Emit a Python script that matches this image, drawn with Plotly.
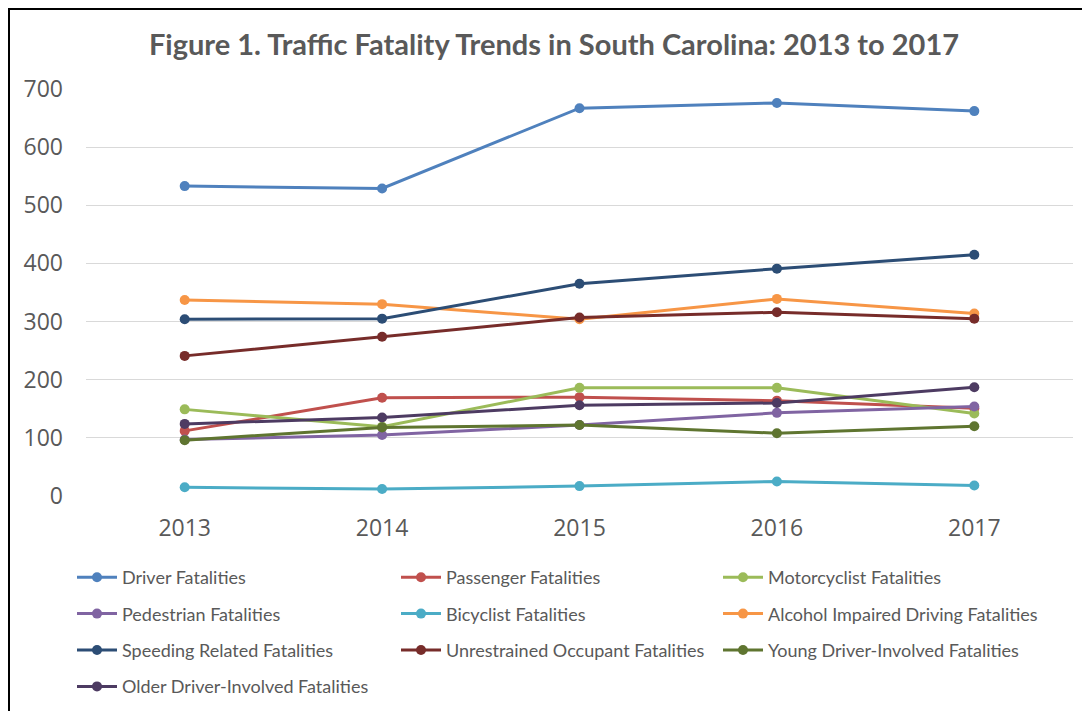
import plotly.graph_objects as go

years = ["2013", "2014", "2015", "2016", "2017"]

driver = [533, 529, 667, 676, 662]
passenger = [112, 169, 170, 164, 151]
motorcyclist = [149, 119, 186, 186, 142]
pedestrian = [97, 105, 122, 143, 154]
bicyclist = [15, 12, 17, 25, 18]
alcohol = [337, 330, 304, 339, 314]
speeding = [304, 305, 365, 391, 415]
unrestrained = [241, 274, 307, 316, 305]
young = [96, 118, 122, 108, 120]
older = [124, 135, 156, 160, 187]

series_names = [
    "Driver Fatalities", "Passenger Fatalities", "Motorcyclist Fatalities",
    "Pedestrian Fatalities", "Bicyclist Fatalities", "Alcohol Impaired Driving Fatalities",
    "Speeding Related Fatalities", "Unrestrained Occupant Fatalities",
    "Young Driver-Involved Fatalities", "Older Driver-Involved Fatalities",
]
series_values = [driver, passenger, motorcyclist, pedestrian, bicyclist,
                 alcohol, speeding, unrestrained, young, older]
colors = ["#4F81BD", "#C0504D", "#9BBB59", "#8064A2", "#4BACC6",
          "#F79646", "#2C4D75", "#772C2A", "#5F7530", "#4D3B62"]

fig = go.Figure()
legend_ids = ["legend", "legend2", "legend3"]
for i, (name, vals, col) in enumerate(zip(series_names, series_values, colors)):
    fig.add_trace(go.Scatter(
        x=years, y=vals, name=name, mode="lines+markers",
        line=dict(color=col, width=3),
        marker=dict(color=col, size=10),
        legend=legend_ids[i % 3],
        legendgroup=f"g{i}",
    ))

W, H = 1090, 711
# page body adds an 8px offset; positions below are compensated for it
L, R, T, B = 78, 25, 81, 223

leg_common = dict(
    xref="container", yref="container", yanchor="top", xanchor="left",
    orientation="v", font=dict(family="Lato", size=18, color="#595959"),
    bgcolor="rgba(0,0,0,0)", tracegroupgap=10, itemwidth=40,
)
leg_y = 1 - 551 / H
fig.update_layout(
    width=W, height=H,
    margin=dict(l=L, r=R, t=T, b=B, autoexpand=False),
    paper_bgcolor="white", plot_bgcolor="white",
    title=dict(
        text="<b>Figure 1. Traffic Fatality Trends in South Carolina: 2013 to 2017</b>",
        x=546 / W, xref="container", xanchor="center",
        y=1 - 37 / H, yref="container", yanchor="middle",
        font=dict(family="Lato", size=29, color="#595959"),
    ),
    xaxis=dict(
        type="category", range=[-0.5, 4.5], showgrid=False, zeroline=False, showline=False,
        tickfont=dict(family="Open Sans", size=23, color="#595959"),
        ticklabelstandoff=16,
    ),
    yaxis=dict(
        range=[0, 700], dtick=100, showgrid=True, gridcolor="#D9D9D9", gridwidth=1,
        zeroline=False, showline=False,
        tickfont=dict(family="Open Sans", size=23, color="#595959"),
        ticklabelstandoff=22,
    ),
    legend=dict(x=64 / W, y=leg_y, **leg_common),
    legend2=dict(x=388 / W, y=leg_y, **leg_common),
    legend3=dict(x=710 / W, y=leg_y, **leg_common),
    showlegend=True,
)

# chart frame
fig.add_shape(type="rect", xref="paper", yref="paper",
              x0=(1 - L) / (W - L - R), x1=(1100 - L) / (W - L - R),
              y0=(H - B - 720) / (H - T - B), y1=(H - B - 1) / (H - T - B),
              line=dict(color="black", width=2), fillcolor="rgba(0,0,0,0)",
              layer="below")

fig.write_html("out.html")
